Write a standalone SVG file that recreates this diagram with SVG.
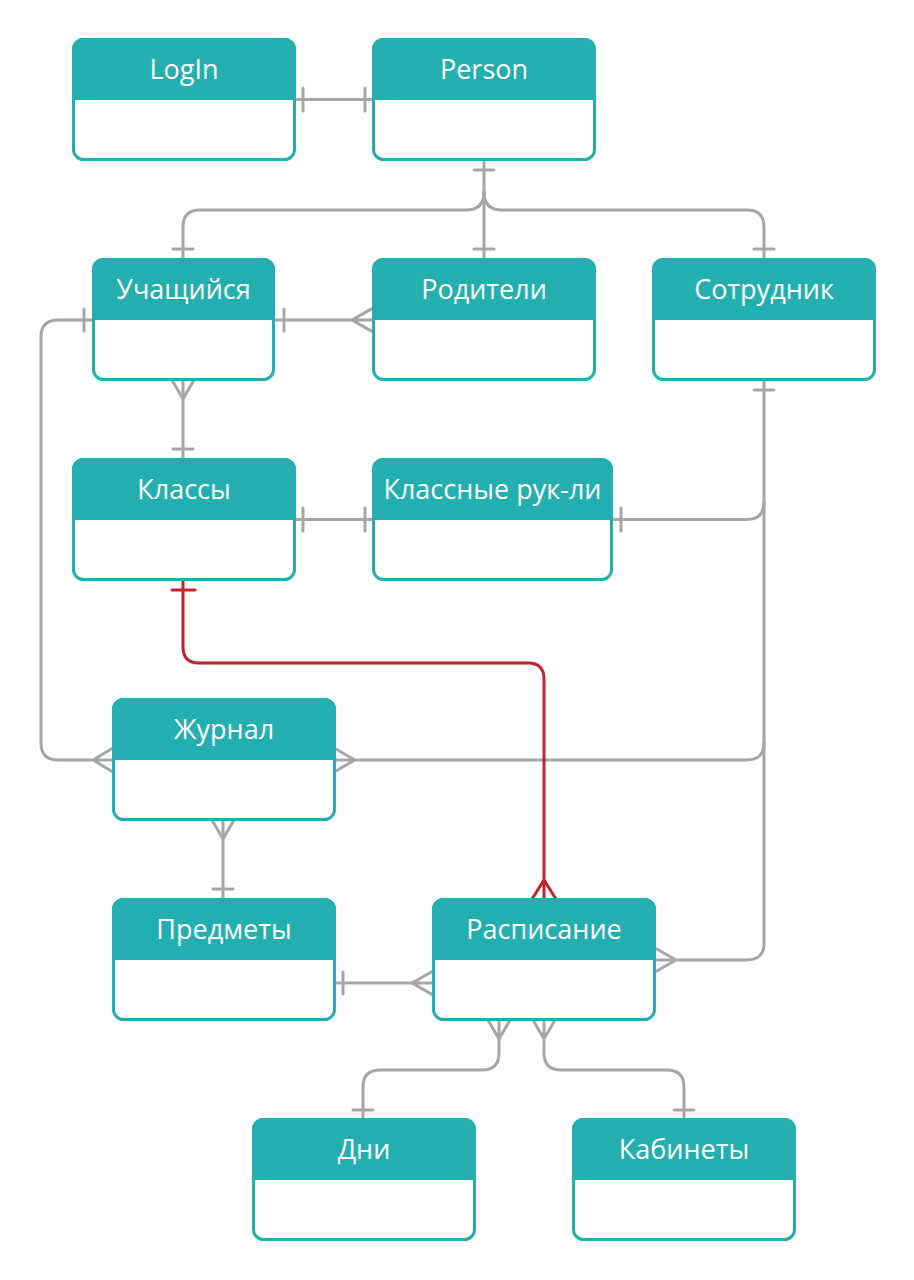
<svg xmlns="http://www.w3.org/2000/svg" width="914" height="1280" viewBox="0 0 914 1280">
<style>
.body{fill:#fff;stroke:#23afaf;stroke-width:3}
.head{fill:#23afaf;stroke:#23afaf;stroke-width:3;stroke-linejoin:round}
.t{font-family:"Open Sans","Noto Sans",sans-serif;font-size:27px;fill:#fff;text-anchor:middle}
.c{fill:none;stroke:#a6a6a6;stroke-width:3;stroke-linecap:round;stroke-linejoin:round}
.r{fill:none;stroke:#c1222b;stroke-width:3;stroke-linecap:round;stroke-linejoin:round}
</style>
<rect width="914" height="1280" fill="#fff"/>
<g id="connectors">
<path class="c" d="M295 99.5H373M303 88V111M365 88V111"/>
<path class="c" d="M484 160V259M474 170H494M474 249H494"/>
<path class="c" d="M484 192Q484 210 466 210H200Q183 210 183 227V259M173 249H193"/>
<path class="c" d="M484 192Q484 210 502 210H747Q764 210 764 227V259M754 249H774"/>
<path class="c" d="M274 320H373M284 309V331M373 308L352 320L373 332"/>
<path class="c" d="M93 320H58Q41 320 41 337V743Q41 760 58 760H113M84 309V331M113 748L93 760L113 772"/>
<path class="c" d="M183 380V459M172 380L183 399L194 380M173 449H193"/>
<path class="c" d="M295 519.5H373M303 508V531M365 508V531"/>
<path class="c" d="M764 380V943Q764 960 747 960H655M754 390H774M655 948L676 960L655 972"/>
<path class="c" d="M764 502Q764 519.5 747 519.5H612M621 508V531"/>
<path class="c" d="M764 743Q764 760 747 760H334M334 748L355 760L334 772"/>
<path class="c" d="M223 820V899M212 820L223 839L234 820M213 889H233"/>
<path class="c" d="M334 983H433M343 972V994M433 971L412 983L433 995"/>
<path class="c" d="M499 1020V1053Q499 1070 482 1070H380Q363 1070 363 1087V1119M488 1020L499 1039L510 1020M353 1110H373"/>
<path class="c" d="M544 1020V1053Q544 1070 561 1070H667Q684 1070 684 1087V1119M533 1020L544 1039L555 1020M674 1110H694"/>
<path class="r" d="M183 580V647Q183 663 199 663H528Q544 663 544 679V899M172 590H195M532 899L544 880L556 899"/>
</g>
<g id="login"><rect class="body" x="73.5" y="39.5" width="221" height="120" rx="10"/><path class="head" d="M73.5 98.5V49.5A10 10 0 0 1 83.5 39.5H284.5A10 10 0 0 1 294.5 49.5V98.5Z"/><text class="t" x="184" y="79">LogIn</text></g>
<g id="person"><rect class="body" x="373.5" y="39.5" width="221" height="120" rx="10"/><path class="head" d="M373.5 98.5V49.5A10 10 0 0 1 383.5 39.5H584.5A10 10 0 0 1 594.5 49.5V98.5Z"/><text class="t" x="484" y="79">Person</text></g>
<g id="student"><rect class="body" x="93.5" y="259.5" width="180" height="120" rx="10"/><path class="head" d="M93.5 318.5V269.5A10 10 0 0 1 103.5 259.5H263.5A10 10 0 0 1 273.5 269.5V318.5Z"/><text class="t" x="183.5" y="299">Учащийся</text></g>
<g id="parents"><rect class="body" x="373.5" y="259.5" width="221" height="120" rx="10"/><path class="head" d="M373.5 318.5V269.5A10 10 0 0 1 383.5 259.5H584.5A10 10 0 0 1 594.5 269.5V318.5Z"/><text class="t" x="484" y="299">Родители</text></g>
<g id="employee"><rect class="body" x="653.5" y="259.5" width="221" height="120" rx="10"/><path class="head" d="M653.5 318.5V269.5A10 10 0 0 1 663.5 259.5H864.5A10 10 0 0 1 874.5 269.5V318.5Z"/><text class="t" x="764" y="299">Сотрудник</text></g>
<g id="classes"><rect class="body" x="73.5" y="459.5" width="221" height="120" rx="10"/><path class="head" d="M73.5 518.5V469.5A10 10 0 0 1 83.5 459.5H284.5A10 10 0 0 1 294.5 469.5V518.5Z"/><text class="t" x="184" y="499">Классы</text></g>
<g id="class-teachers"><rect class="body" x="373.5" y="459.5" width="238" height="120" rx="10"/><path class="head" d="M373.5 518.5V469.5A10 10 0 0 1 383.5 459.5H601.5A10 10 0 0 1 611.5 469.5V518.5Z"/><text class="t" x="492.5" y="499">Классные рук-ли</text></g>
<g id="journal"><rect class="body" x="113.5" y="699.5" width="221" height="120" rx="10"/><path class="head" d="M113.5 758.5V709.5A10 10 0 0 1 123.5 699.5H324.5A10 10 0 0 1 334.5 709.5V758.5Z"/><text class="t" x="224" y="739">Журнал</text></g>
<g id="subjects"><rect class="body" x="113.5" y="899.5" width="221" height="120" rx="10"/><path class="head" d="M113.5 958.5V909.5A10 10 0 0 1 123.5 899.5H324.5A10 10 0 0 1 334.5 909.5V958.5Z"/><text class="t" x="224" y="939">Предметы</text></g>
<g id="schedule"><rect class="body" x="433.5" y="899.5" width="221" height="120" rx="10"/><path class="head" d="M433.5 958.5V909.5A10 10 0 0 1 443.5 899.5H644.5A10 10 0 0 1 654.5 909.5V958.5Z"/><text class="t" x="544" y="939">Расписание</text></g>
<g id="days"><rect class="body" x="253.5" y="1119.5" width="221" height="120" rx="10"/><path class="head" d="M253.5 1178.5V1129.5A10 10 0 0 1 263.5 1119.5H464.5A10 10 0 0 1 474.5 1129.5V1178.5Z"/><text class="t" x="364" y="1159">Дни</text></g>
<g id="rooms"><rect class="body" x="573.5" y="1119.5" width="221" height="120" rx="10"/><path class="head" d="M573.5 1178.5V1129.5A10 10 0 0 1 583.5 1119.5H784.5A10 10 0 0 1 794.5 1129.5V1178.5Z"/><text class="t" x="684" y="1159">Кабинеты</text></g>
</svg>
